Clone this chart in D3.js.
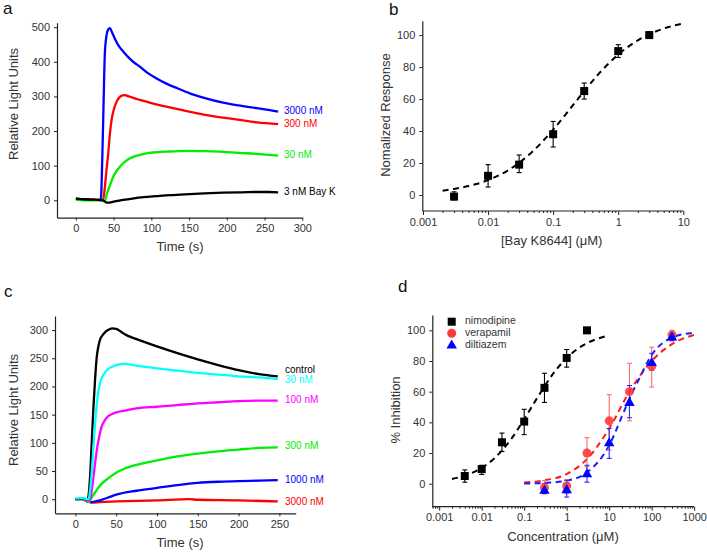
<!DOCTYPE html>
<html><head><meta charset="utf-8">
<script src="https://cdn.jsdelivr.net/npm/d3@7"></script>
<style>
body{margin:0;background:#fff}
svg{display:block;font-family:Arial,"Liberation Sans",sans-serif}
</style></head>
<body><svg id="chart" width="707" height="552"></svg>
<script>
// ---------- Panel a data: time (s), relative light units ----------
const aBlue3000 = [[0,5],[10,3],[20,2],[30,1],[33,1],[35,120],[36.5,260],[38.4,425],[40.7,477],[43,494],[45,497],[48,485],[52,465],[57,445],[62.7,430],[70,412],[77,398],[84.8,386],[95,368],[107,352],[120,337],[135,323],[151,309],[170,296],[195,282],[215,274],[240,266],[255,261],[268,256]];
const aRed300 = [[0,4],[10,3],[20,2],[30,1],[36,1],[38,30],[40,75],[42.9,136],[45,190],[47.3,232],[50,260],[54,285],[58,298],[62,303],[65,304],[70,300],[77,295],[84.8,290],[100,281],[115,273],[129,266],[150,256],[173,246],[195,239],[217,232],[240,225],[268,220]];
const aGreen30 = [[0,1],[10,0],[20,0],[30,0],[36,-1],[38.4,0],[42,25],[45.5,45],[49.5,68],[55,88],[62.7,107],[70,119],[77,126],[84.8,131],[95,136],[107,139],[125,141],[151,143],[170,142],[195,140],[215,137],[240,134],[255,131],[268,129]];
const aBlack3 = [[0,5],[10,3],[20,2],[30,1],[36,0],[40,-6],[43,-7],[50,-4],[62.7,1],[75,5],[90,9],[107,12],[125,15],[151,18],[170,20],[195,22],[220,23],[240,24],[255,24],[268,23]];
const aSeries = [
  {name:"3000 nM", color:"#0000ff", data:aBlue3000, labelY:256},
  {name:"300 nM", color:"#ff0000", data:aRed300, labelY:218},
  {name:"30 nM", color:"#00ee00", data:aGreen30, labelY:130},
  {name:"3 nM Bay K", color:"#000000", data:aBlack3, labelY:23}
];
const aXTicks = [0,50,100,150,200,250,300];
const aYTicks = [0,100,200,300,400,500];

// ---------- Panel b data: [Bay K8644] (µM), normalized response ----------
const bConc = [0.003,0.01,0.03,0.1,0.3,1,3];
const bResp = [-1,12,19,38,65,90,100];
const bLow  = [-3,5,14,30,60,86,98];
const bHigh = [2,19,25,46,70,94,102];
const bFitX = [0.002,0.003,0.005,0.01,0.02,0.03,0.05,0.1,0.2,0.3,0.5,1,2,3,5,10];
const bFitY = [2.7,3.8,5.6,9.3,15.3,20.1,27.8,40.9,56,65,75.7,87.8,96.7,100.5,104.1,107.3];
const bXTicks = [0.001,0.01,0.1,1,10];
const bXTickLabels = ["0.001","0.01","0.1","1","10"];
const bYTicks = [0,20,40,60,80,100];

// ---------- Panel c data: time (s), relative light units ----------
const cControl = [[0,0],[8,1],[15,0],[18,40],[20,100],[22,160],[24,210],[26,250],[28,270],[30,282],[35,294],[40,300],[45,303],[50,302],[55,298],[60,293],[75,284],[100,271],[125,259],[150,248],[175,238],[200,229],[225,222],[248,218]];
const c30 = [[0,1],[8,2],[16,0],[19,30],[22,90],[25,150],[28,190],[31,210],[35,222],[40,231],[45,235],[50,238],[60,240],[75,237],[100,232],[125,228],[150,224],[175,221],[200,218],[225,216],[248,213]];
const c100 = [[0,0],[8,1],[15,-2],[17,-3],[20,15],[23,50],[26,85],[29,110],[32,128],[36,140],[40,147],[45,151],[50,154],[60,157],[75,161],[100,164],[125,167],[150,170],[175,172],[200,174],[225,175],[248,175]];
const c300 = [[0,0],[8,0],[15,-4],[17,-5],[20,3],[25,14],[30,24],[40,37],[50,47],[60,54],[75,61],[100,69],[125,76],[150,81],[175,85],[200,88],[225,91],[248,92]];
const c1000 = [[0,0],[8,0],[15,-4],[20,-5],[30,-2],[40,3],[50,8],[75,15],[100,20],[125,25],[150,29],[175,31],[200,32],[225,33],[248,34]];
const c3000 = [[0,0],[8,0],[15,-4],[20,-6],[30,-5],[50,-4],[100,-2],[140,0],[150,-1],[200,-2],[248,-4]];
const cSeries = [
  {name:"3000 nM", color:"#ff0000", data:c3000, labelY:-5},
  {name:"1000 nM", color:"#0000ff", data:c1000, labelY:34},
  {name:"300 nM", color:"#00ee00", data:c300, labelY:93},
  {name:"100 nM", color:"#ff00ff", data:c100, labelY:176},
  {name:"control", color:"#000000", data:cControl, labelY:228},
  {name:"30 nM", color:"#00ffff", data:c30, labelY:211}
];
const cXTicks = [0,50,100,150,200,250];
const cYTicks = [0,50,100,150,200,250,300];

// ---------- Panel d data: concentration (µM), % inhibition ----------
const dNimoX = [0.004,0.01,0.03,0.1,0.3,1,3];
const dNimoY = [5,9.5,27,40.5,62.5,82,100];
const dNimoLo = [1,6,21,32,53,76,100];
const dNimoHi = [9,12,33,48.5,72,87.5,100];
const dVeraX = [0.3,1,3,10,30,100,300];
const dVeraY = [-2.6,-1.5,20,41,60,76.5,97];
const dVeraLo = [-6.5,-6.5,11,22,41,63,93];
const dVeraHi = [2,2.6,30,58,78.5,89,100];
const dDiltX = [0.3,1,3,10,30,100,300];
const dDiltY = [-4.3,-3.9,6.5,26.7,53,79,95.7];
const dDiltLo = [-6.5,-8.7,1,16.5,43,74,93.5];
const dDiltHi = [0,2.2,12,36,64,85,98];
const dNimoFitX = [0.002,0.005,0.01,0.02,0.05,0.1,0.2,0.5,1,2,3,5,8];
const dNimoFitY = [3.1,6.2,10.3,16.6,29.3,42,55.7,72.4,82,88.8,91.7,94.3,96];
const dVeraFitX = [0.1,0.3,1,3,10,30,100,300,1000];
const dVeraFitY = [0.8,2.2,6.3,16,36,60,80,91,97];
const dDiltFitX = [0.1,0.3,1,3,10,20,30,50,100,300,1000];
const dDiltFitY = [0.1,0.5,2,7.3,25,44,55.5,68,84,95.2,98.5];
const dXTicks = [0.001,0.01,0.1,1,10,100,1000];
const dXTickLabels = ["0.001","0.01","0.1","1","10","100","1000"];
const dYTicks = [0,20,40,60,80,100];
const dLegend = ["nimodipine","verapamil","diltiazem"];

// ======================================================================
const svg = d3.select("#chart");
const AXC = "#222", TXT = "#333";

function styleAxis(g){
  g.select(".domain").attr("stroke",AXC).attr("stroke-width",1.2);
  g.selectAll(".tick line").attr("stroke",AXC).attr("stroke-width",1);
  g.selectAll(".tick text").attr("fill",TXT).style("font-size","11px").style("font-family","Arial, 'Liberation Sans', sans-serif");
}
function linearAxes(x, y, xt, yt){
  const gx = svg.append("g").attr("transform",`translate(0,${y.range()[0]})`)
    .call(d3.axisBottom(x).tickValues(xt).tickSize(3).tickPadding(4).tickSizeOuter(0));
  styleAxis(gx);
  const gy = svg.append("g").attr("transform",`translate(${x.range()[0]},0)`)
    .call(d3.axisLeft(y).tickValues(yt).tickSize(3).tickPadding(4).tickSizeOuter(0));
  styleAxis(gy);
}
function logXAxis(x, y, majors, labels){
  const [d0,d1] = x.domain();
  const minors = [];
  for(let e=Math.floor(Math.log10(d0)); e<Math.log10(d1); e++){
    for(let m=2;m<=9;m++){ const v=m*Math.pow(10,e); if(v>d0 && v<d1) minors.push(v); }
  }
  const gm = svg.append("g").attr("transform",`translate(0,${y.range()[0]})`)
    .call(d3.axisBottom(x).tickValues(minors).tickSize(2).tickFormat(""));
  gm.select(".domain").remove();
  gm.selectAll(".tick line").attr("stroke",AXC);
  const gx = svg.append("g").attr("transform",`translate(0,${y.range()[0]})`)
    .call(d3.axisBottom(x).tickValues(majors).tickSize(4).tickPadding(3).tickSizeOuter(0)
      .tickFormat((d,i)=>labels[i]));
  styleAxis(gx);
  gx.select(".domain").attr("d",`M${x.range()[0]},0H${x.range()[1]}`);
}
function yAxis(x, y, yt){
  const gy = svg.append("g").attr("transform",`translate(${x.range()[0]},0)`)
    .call(d3.axisLeft(y).tickValues(yt).tickSize(3).tickPadding(4).tickSizeOuter(0));
  styleAxis(gy);
}
function title(txt, x, y, rot, size){
  const t = svg.append("text").attr("text-anchor","middle").attr("dominant-baseline","middle")
    .attr("fill",TXT).style("font-size",(size||13)+"px").text(txt);
  if(rot) t.attr("transform",`translate(${x},${y}) rotate(-90)`);
  else t.attr("x",x).attr("y",y);
}
function letter(txt,x,y){
  svg.append("text").attr("x",x).attr("y",y).attr("fill","#111").style("font-size","17px").text(txt);
}
function errorBars(x, y, xs, lo, hi, color){
  xs.forEach((v,i)=>{
    if(lo[i]===hi[i]) return;
    const px = x(v), y1=y(lo[i]), y2=y(hi[i]);
    const g = svg.append("g").attr("stroke",color).attr("stroke-width",1.1);
    g.append("line").attr("x1",px).attr("x2",px).attr("y1",y1).attr("y2",y2);
    g.append("line").attr("x1",px-2.5).attr("x2",px+2.5).attr("y1",y1).attr("y2",y1);
    g.append("line").attr("x1",px-2.5).attr("x2",px+2.5).attr("y1",y2).attr("y2",y2);
  });
}
function dashed(x, y, xs, ys, color){
  svg.append("path").datum(xs.map((v,i)=>[v,ys[i]]))
    .attr("fill","none").attr("stroke",color).attr("stroke-width",2)
    .attr("stroke-dasharray","6,4.5")
    .attr("d", d3.line().x(d=>x(d[0])).y(d=>y(d[1])).curve(d3.curveMonotoneX));
}

// ---------------- Panel a ----------------
{
  const x = d3.scaleLinear().domain([-25,300]).range([57,302.3]);
  const y = d3.scaleLinear().domain([-50,513]).range([217.6,22.7]);
  linearAxes(x,y,aXTicks,aYTicks);
  const line = d3.line().x(d=>x(d[0])).y(d=>y(d[1])).curve(d3.curveMonotoneX);
  aSeries.forEach(s=>{
    svg.append("path").datum(s.data).attr("fill","none").attr("stroke",s.color)
      .attr("stroke-width",2.3).attr("d",line);
    svg.append("text").attr("x",284).attr("y",y(s.labelY)).attr("dominant-baseline","middle")
      .attr("fill",s.color).style("font-size","10px").text(s.name);
  });
  title("Time (s)",180,248);
  title("Relative Light Units",15,104,true);
  letter("a",3,14);
}

// ---------------- Panel b ----------------
{
  const x = d3.scaleLog().domain([0.001,10]).range([423,683.3]);
  const y = d3.scaleLinear().domain([-10,109]).range([211,20.7]);
  const xAx = d3.scaleLog().domain([0.001,10]).range([423,683.3]);
  logXAxis(x,y,bXTicks,bXTickLabels);
  svg.select("g:last-of-type");
  yAxis({range:()=>[422.3]},y,bYTicks);
  dashed(x,y,bFitX,bFitY,"#000");
  errorBars(x,y,bConc,bLow,bHigh,"#000");
  svg.append("g").selectAll("rect").data(bConc).join("rect")
    .attr("x",d=>x(d)-4).attr("y",(d,i)=>y(bResp[i])-4).attr("width",8).attr("height",8).attr("fill","#000");
  title("[Bay K8644] (\u03bcM)",551.7,241.7);
  title("Nomalized Response",387,115,true);
  letter("b",389,15);
}

// ---------------- Panel c ----------------
{
  const x = d3.scaleLinear().domain([-25,270]).range([55,295.7]);
  const y = d3.scaleLinear().domain([-25,325]).range([513.3,316]);
  linearAxes(x,y,cXTicks,cYTicks);
  const line = d3.line().x(d=>x(d[0])).y(d=>y(d[1])).curve(d3.curveMonotoneX);
  cSeries.forEach(s=>{
    svg.append("path").datum(s.data).attr("fill","none").attr("stroke",s.color)
      .attr("stroke-width",2.3).attr("d",line);
  });
  cSeries.forEach(s=>{
    svg.append("text").attr("x",285).attr("y",y(s.labelY)).attr("dominant-baseline","middle")
      .attr("fill",s.color).style("font-size","10px").text(s.name);
  });
  title("Time (s)",180,543.3);
  title("Relative Light Units",15,410,true);
  letter("c",4,297);
}

// ---------------- Panel d ----------------
{
  const x = d3.scaleLog().domain([Math.pow(10,-3.162),1000]).range([432.3,694.2]);
  const y = d3.scaleLinear().domain([-15,110]).range([506.7,315]);
  logXAxis(x,y,dXTicks,dXTickLabels);
  yAxis(x,y,dYTicks);
  dashed(x,y,dNimoFitX,dNimoFitY,"#000");
  dashed(x,y,dVeraFitX,dVeraFitY,"#ff1a1a");
  dashed(x,y,dDiltFitX,dDiltFitY,"#1a1aff");
  errorBars(x,y,dNimoX,dNimoLo,dNimoHi,"#000");
  errorBars(x,y,dVeraX,dVeraLo,dVeraHi,"#ff6a6a");
  errorBars(x,y,dDiltX,dDiltLo,dDiltHi,"#2a2aff");
  svg.append("g").selectAll("rect").data(dNimoX).join("rect")
    .attr("x",d=>x(d)-4).attr("y",(d,i)=>y(dNimoY[i])-4).attr("width",8).attr("height",8).attr("fill","#000");
  svg.append("g").selectAll("circle").data(dVeraX).join("circle")
    .attr("cx",d=>x(d)).attr("cy",(d,i)=>y(dVeraY[i])).attr("r",4.5).attr("fill","#ff3838").attr("fill-opacity",0.9);
  const tri = d3.symbol().type(d3.symbolTriangle).size(48);
  svg.append("g").selectAll("path").data(dDiltX).join("path")
    .attr("transform",(d,i)=>`translate(${x(d)},${y(dDiltY[i])+0.5})`).attr("d",tri).attr("fill","#0000ff");
  // legend
  const lx = 451.7, ly = [321.7,333.3,345];
  svg.append("rect").attr("x",lx-4).attr("y",ly[0]-4).attr("width",8).attr("height",8).attr("fill","#000");
  svg.append("circle").attr("cx",lx).attr("cy",ly[1]).attr("r",4.5).attr("fill","#ff3838");
  svg.append("path").attr("transform",`translate(${lx},${ly[2]+0.5})`).attr("d",tri).attr("fill","#0000ff");
  dLegend.forEach((t,i)=>{
    svg.append("text").attr("x",465).attr("y",ly[i]).attr("dominant-baseline","middle")
      .attr("fill",TXT).style("font-size","10.5px").text(t);
  });
  title("Concentration (\u03bcM)",563,537.7);
  title("% Inhibition",396.7,410,true);
  letter("d",398,292);
}
</script></body></html>
